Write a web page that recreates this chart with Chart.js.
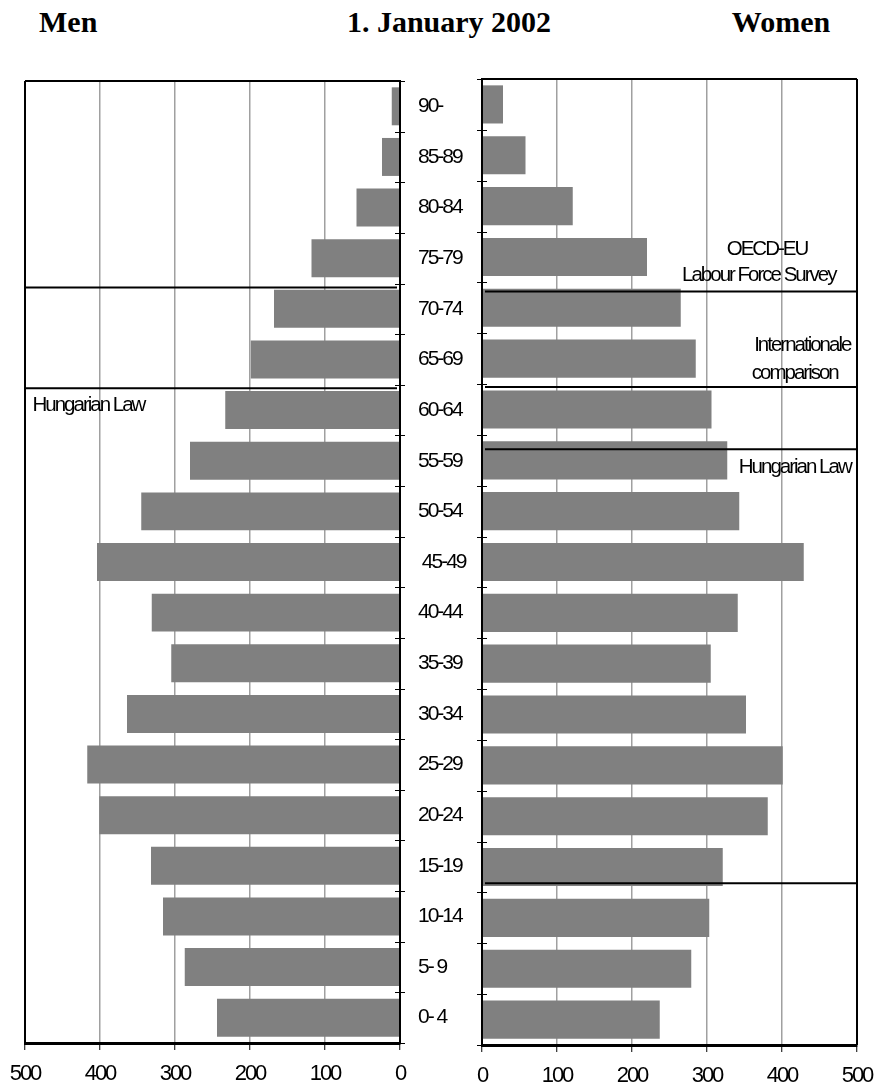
<!DOCTYPE html>
<html>
<head>
<meta charset="utf-8">
<title>1. January 2002</title>
<script src="https://cdn.jsdelivr.net/npm/chart.js@4.4.1/dist/chart.umd.min.js"></script>
<style>
  html, body { margin: 0; padding: 0; background: #fff; }
  #page { position: relative; width: 877px; height: 1088px; overflow: hidden; }
  .title { position: absolute; top: 7px; font: bold 30px/30px "Liberation Serif", "Times New Roman", serif; color: #000; white-space: nowrap; }
  canvas { position: absolute; top: 0; }
</style>
</head>
<body>
<div id="page">
  <div class="title" style="left:39px">Men</div>
  <div class="title" style="left:449px; transform:translateX(-50%)">1. January 2002</div>
  <div class="title" style="left:781px; transform:translateX(-50%)">Women</div>
  <canvas id="menChart" style="left:-20px" width="502" height="1088"></canvas>
  <canvas id="womenChart" style="left:450px" width="447" height="1088"></canvas>
</div>
<script>
// Age groups, top to bottom
const ageGroups = ['90-', '85-89', '80-84', '75-79', '70-74', '65-69', '60-64', '55-59', '50-54',
  ' 45-49', '40-44', '35-39', '30-34', '25-29', '20-24', '15-19', '10-14', '5- 9', '0- 4'];

// thousand persons
const menValues = [11, 24, 58, 118, 168, 199, 233, 280, 345, 404, 331, 305, 364, 417, 401, 332, 316, 287, 244];
const womenValues = [28, 58, 121, 220, 265, 285, 306, 327, 343, 429, 341, 305, 352, 401, 381, 321, 303, 279, 237];

const valueTicks = [0, 100, 200, 300, 400, 500];

// age limit lines (in age group units) and their notes
const menLines = [3.58, 5.57];
const menNotes = [
  { text: 'Hungarian Law', value: 490, pos: 5.91, align: 'left' }
];
const womenLines = [3.68, 5.56, 6.78, 15.32];
const womenNotes = [
  { text: 'OECD-EU', value: 380, pos: 2.85 },
  { text: 'Labour Force Survey', value: 369, pos: 3.37 },
  { text: 'Internationale', value: 427, pos: 4.73 },
  { text: 'comparison', value: 417, pos: 5.28 },
  { text: 'Hungarian Law', value: 417, pos: 7.13 }
];

const FONT = '"Liberation Sans", Arial, sans-serif';
const BAR = '#808080';
const GRID = '#a0a0a0';

// old excel look: letters packed tight
const tightText = {
  id: 'tightText',
  beforeUpdate(chart) { chart.ctx.letterSpacing = '-2px'; },
  beforeDraw(chart) { chart.ctx.letterSpacing = '-2px'; }
};

const panelFrame = {
  id: 'panelFrame',
  afterDatasetsDraw(chart, args, opts) {
    const { ctx, chartArea: a, scales } = chart;
    const x = scales.x, y = scales.y;
    const isLeft = opts.side === 'left';
    const axisX = isLeft ? a.right : a.left;
    const outerX = isLeft ? a.left : a.right;

    ctx.save();
    ctx.strokeStyle = '#000';
    ctx.lineWidth = 2;
    ctx.beginPath();
    ctx.moveTo(a.left, a.top);
    ctx.lineTo(a.right, a.top);
    ctx.moveTo(outerX, a.top);
    ctx.lineTo(outerX, a.bottom);
    ctx.moveTo(axisX, a.top);
    ctx.lineTo(axisX, a.bottom);
    ctx.stroke();

    // small crosses between age groups
    ctx.lineWidth = 1;
    ctx.beginPath();
    for (let i = 0; i <= ageGroups.length; i++) {
      const py = Math.round(y.getPixelForValue(i - 0.5)) + 0.5;
      ctx.moveTo(axisX - 5, py);
      ctx.lineTo(axisX + 5, py);
    }
    ctx.stroke();

    // age limit lines
    ctx.lineWidth = 2;
    ctx.beginPath();
    opts.lines.forEach(p => {
      const py = y.getPixelForValue(p);
      ctx.moveTo(isLeft ? a.left : a.left + 3, py);
      ctx.lineTo(isLeft ? a.right - 3 : a.right, py);
    });
    ctx.stroke();

    ctx.fillStyle = '#000';
    ctx.font = '20.5px ' + FONT;
    ctx.textBaseline = 'middle';
    opts.notes.forEach(n => {
      ctx.textAlign = n.align || 'center';
      ctx.fillText(n.text, x.getPixelForValue(n.value), y.getPixelForValue(n.pos));
    });
    ctx.restore();
  }
};

function buildPanel(canvasId, values, side, lines, notes) {
  const isMen = side === 'left';
  return new Chart(document.getElementById(canvasId), {
    type: 'bar',
    data: {
      labels: ageGroups,
      datasets: [{
        data: values,
        backgroundColor: BAR,
        borderWidth: 0,
        barPercentage: 0.75,
        categoryPercentage: 1
      }]
    },
    options: {
      indexAxis: 'y',
      responsive: false,
      animation: false,
      layout: {
        padding: isMen ? { left: 45, top: 81, right: 0, bottom: 0 } : { left: 30, top: 79, right: 40, bottom: 0 }
      },
      plugins: {
        legend: { display: false },
        tooltip: { enabled: false },
        panelFrame: { side, lines, notes }
      },
      scales: {
        x: {
          reverse: isMen,
          min: valueTicks[0],
          max: valueTicks[valueTicks.length - 1],
          afterBuildTicks: s => { s.ticks = valueTicks.map(v => ({ value: v })); },
          afterFit: s => { s.height = isMen ? 45 : 43; },
          grid: {
            color: c => (c.tick && (c.tick.value === 0 || c.tick.value === 500)) ? 'rgba(0,0,0,0)' : GRID,
            lineWidth: 1.5,
            tickColor: '#000',
            tickLength: 7,
            tickWidth: 1
          },
          border: { color: '#000', width: 3 },
          ticks: { color: '#000', font: { family: FONT, size: 22 }, padding: 11, maxRotation: 0 }
        },
        y: {
          position: isMen ? 'right' : 'left',
          afterFit: s => { s.width = isMen ? 82 : 2; },
          grid: { display: true, drawOnChartArea: false, drawTicks: false },
          border: { color: '#000', width: 2 },
          ticks: { display: isMen, color: '#000', font: { family: FONT, size: 21 }, padding: 18, crossAlign: 'near' }
        }
      }
    },
    plugins: [tightText, panelFrame]
  });
}

buildPanel('menChart', menValues, 'left', menLines, menNotes);
buildPanel('womenChart', womenValues, 'right', womenLines, womenNotes);
</script>
</body>
</html>
